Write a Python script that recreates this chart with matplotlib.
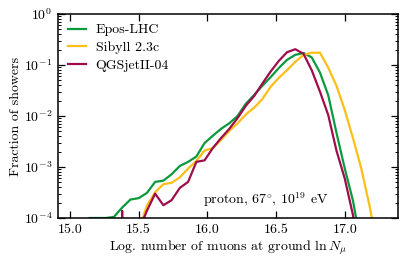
import numpy as np
import matplotlib
matplotlib.use("Agg")
import matplotlib.pyplot as plt
from matplotlib.ticker import LogLocator, NullFormatter, FixedLocator

plt.rcParams["font.family"] = "serif"
plt.rcParams["font.serif"] = ["cmr10"]
plt.rcParams["mathtext.fontset"] = "cm"
plt.rcParams["axes.formatter.use_mathtext"] = True
plt.rcParams["axes.unicode_minus"] = False

# bin centres in ln N_mu
ln_nmu = [15.08, 15.14, 15.20, 15.26, 15.32, 15.38, 15.44, 15.50, 15.56, 15.62,
          15.68, 15.74, 15.80, 15.86, 15.92, 15.98, 16.04, 16.10, 16.16, 16.22,
          16.28, 16.34, 16.40, 16.46, 16.52, 16.58, 16.64, 16.70, 16.76, 16.82,
          16.88, 16.94, 17.00, 17.06, 17.12, 17.18, 17.24]

# fraction of showers per bin
epos = [0, 1.0e-4, 1.0e-4, 1.0e-4, 1.05e-4, 1.6e-4, 2.3e-4, 2.45e-4, 3.1e-4, 5.1e-4,
        5.4e-4, 7.2e-4, 1.05e-3, 1.26e-3, 1.6e-3, 2.95e-3, 4.1e-3, 5.6e-3, 7.2e-3, 1.0e-2,
        1.74e-2, 2.57e-2, 3.9e-2, 5.75e-2, 8.7e-2, 0.126, 0.158, 0.172, 0.141, 0.071,
        2.57e-2, 4.7e-3, 9.5e-4, 2.2e-4, 2.8e-5, 0, 0]
sibyll = [0, 0, 0, 0, 0, 0, 0, 5.8e-5, 1.74e-4, 3.2e-4,
          4.6e-4, 4.9e-4, 6.3e-4, 9.3e-4, 1.32e-3, 2.1e-3, 2.35e-3, 3.4e-3, 5.1e-3, 7.2e-3,
          1.07e-2, 1.45e-2, 2.14e-2, 3.7e-2, 5.6e-2, 7.9e-2, 0.115, 0.158, 0.174, 0.174,
          8.9e-2, 3.9e-2, 1.32e-2, 3.7e-3, 9.5e-4, 1.78e-4, 2.5e-5]
qgsjet = [0, 0, 0, 0, 0, 1.38e-4, 0, 5.5e-5, 1.38e-4, 3.0e-4,
          1.78e-4, 2.24e-4, 3.9e-4, 5.1e-4, 1.26e-3, 1.35e-3, 2.35e-3, 3.7e-3, 5.6e-3, 9.1e-3,
          1.58e-2, 2.45e-2, 4.3e-2, 7.4e-2, 0.12, 0.178, 0.204, 0.166, 7.9e-2, 3.0e-2,
          1.05e-2, 2.1e-3, 6.0e-4, 1.15e-4, 1e-5, 0, 0]

series = [("Epos-LHC", epos, "#0a9a3c"),
          ("Sibyll 2.3c", sibyll, "#fdbe16"),
          ("QGSjetII-04", qgsjet, "#9e0d4b")]

fs = 10

fig = plt.figure(figsize=(4.07, 2.63), dpi=100)
ax = fig.add_axes([58 / 407, 1 - 218 / 263, 340 / 407, 204 / 263])

for name, vals, col in series:
    ax.plot(ln_nmu, vals, color=col, lw=1.6, label=name)

ax.set_yscale("log", nonpositive="clip")
ax.set_xlim(14.913, 17.388)
ax.set_ylim(1e-4, 1)
ax.xaxis.set_major_locator(FixedLocator([15.0, 15.5, 16.0, 16.5, 17.0]))
ax.set_xticklabels(["15.0", "15.5", "16.0", "16.5", "17.0"])
ax.yaxis.set_major_locator(LogLocator(base=10, numticks=10))
ax.yaxis.set_minor_locator(LogLocator(base=10, subs=np.arange(2, 10), numticks=10))
ax.yaxis.set_minor_formatter(NullFormatter())

ax.tick_params(which="both", direction="in", top=True, right=True, labelsize=fs)
ax.tick_params(which="major", length=5, width=0.9, pad=4)
ax.tick_params(which="minor", length=2.5, width=0.7)
for s in ax.spines.values():
    s.set_linewidth(1.1)

ax.set_xlabel(r"Log. number of muons at ground $\ln N_\mu$", fontsize=fs, labelpad=2)
ax.set_ylabel("Fraction of showers", fontsize=fs, labelpad=1)

ax.text(0.795, 0.088, r"proton, $67^{\circ}$, $10^{19}$ eV", transform=ax.transAxes,
        ha="right", va="center", fontsize=fs)

ax.legend(loc="upper left", frameon=False, fontsize=fs, handlelength=1.3,
          handletextpad=0.7, labelspacing=0.35, borderaxespad=0.3, borderpad=0.4)

fig.savefig("out.png", dpi=100)
